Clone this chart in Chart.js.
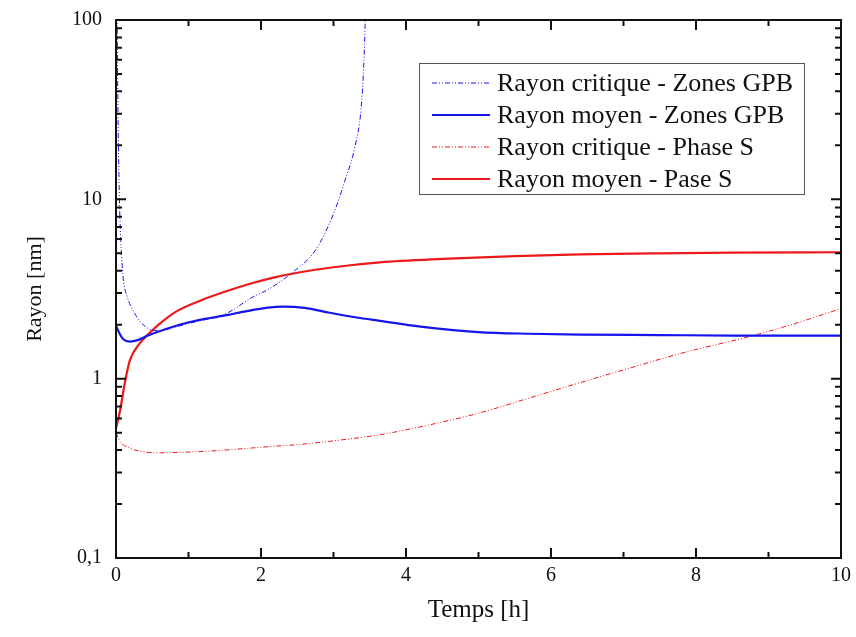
<!DOCTYPE html>
<html>
<head>
<meta charset="utf-8">
<title>Rayon</title>
<script src="https://cdn.jsdelivr.net/npm/chart.js@4.4.1/dist/chart.umd.min.js"></script>
<style>
  html, body { margin: 0; padding: 0; background: #fff; }
  canvas { display: block; }
</style>
</head>
<body>
<canvas id="rayonChart" width="856" height="637"></canvas>
<script>
// values (time in h, radius in nm)
const tCritGPB = [0, 0.015, 0.03, 0.05, 0.075, 0.1, 0.15, 0.26, 0.35, 0.47, 0.6, 0.8, 1.0, 1.2, 1.43, 1.6, 1.85, 2.12, 2.43, 2.75, 3.0, 3.16, 3.3, 3.38, 3.42, 3.45];
const rCritGPB = [400, 100, 25, 9, 5, 3.6, 2.9, 2.3, 2.05, 1.88, 1.85, 1.93, 2.03, 2.12, 2.23, 2.4, 2.8, 3.18, 3.9, 5.2, 8.3, 12.8, 20, 32, 60, 150];

const tMoyGPB = [0, 0.05, 0.1, 0.19, 0.3, 0.44, 0.7, 1.02, 1.3, 1.45, 1.55, 1.8, 2.1, 2.3, 2.6, 2.95, 3.3, 3.64, 4.2, 5.0, 5.7, 6.4, 7.5, 8.5, 10];
const rMoyGPB = [1.98, 1.78, 1.66, 1.61, 1.64, 1.74, 1.9, 2.07, 2.18, 2.23, 2.27, 2.38, 2.49, 2.52, 2.48, 2.33, 2.2, 2.1, 1.95, 1.82, 1.78, 1.76, 1.75, 1.74, 1.74];

const tCritS = [0, 0.05, 0.19, 0.4, 0.6, 1.3, 2.12, 2.54, 3.0, 3.64, 4.3, 5.02, 5.7, 6.4, 7.1, 7.78, 8.79, 9.4, 10];
const rCritS = [0.5, 0.45, 0.41, 0.39, 0.386, 0.395, 0.418, 0.43, 0.45, 0.487, 0.55, 0.645, 0.78, 0.95, 1.15, 1.38, 1.74, 2.05, 2.46];

const tMoyS = [0, 0.055, 0.12, 0.19, 0.33, 0.44, 0.6, 0.84, 1.16, 1.5, 1.85, 2.2, 2.54, 3.0, 3.64, 4.5, 5.5, 6.4, 7.5, 8.5, 10];
const rMoyS = [0.53, 0.66, 0.94, 1.26, 1.58, 1.76, 2.02, 2.38, 2.72, 3.05, 3.38, 3.68, 3.92, 4.18, 4.45, 4.65, 4.82, 4.93, 5.0, 5.04, 5.07];

const seriesNames = ["Rayon critique - Zones GPB", "Rayon moyen - Zones GPB", "Rayon critique - Phase S", "Rayon moyen - Pase S"];

const xTicks = [0, 2, 4, 6, 8, 10];
const yTicks = [0.1, 1, 10, 100];
const yTickLabels = ["0,1", "1", "10", "100"];

const BLUE = "rgb(20,20,235)";
const RED = "rgb(235,25,25)";
const DASH = [5, 2, 1, 2, 1, 2];
const SERIF = "'Liberation Serif', 'Times New Roman', serif";

function points(ts, rs) {
    return ts.map((t, i) => ({x: t, y: rs[i]}));
}

// inward ticks on the four sides + frame
const frameTicks = {
    id: "frameTicks",
    afterDraw(chart) {
        const {ctx, chartArea: a, scales: {x, y}} = chart;
        ctx.save();
        ctx.strokeStyle = "#111";
        ctx.lineWidth = 2;
        ctx.beginPath();
        for (let v = 0; v <= 10; v++) {
            const px = x.getPixelForValue(v);
            const len = xTicks.includes(v) ? 10 : 6;
            ctx.moveTo(px, a.bottom); ctx.lineTo(px, a.bottom - len);
            ctx.moveTo(px, a.top); ctx.lineTo(px, a.top + len);
        }
        for (let d = 0; d < yTicks.length; d++) {
            const base = yTicks[d];
            for (let m = 1; m <= 9; m++) {
                if (d === yTicks.length - 1 && m > 1) break;
                const py = y.getPixelForValue(base * m);
                const len = m === 1 ? 10 : 6;
                ctx.moveTo(a.left, py); ctx.lineTo(a.left + len, py);
                ctx.moveTo(a.right, py); ctx.lineTo(a.right - len, py);
            }
        }
        ctx.stroke();
        ctx.strokeRect(a.left, a.top, a.right - a.left, a.bottom - a.top);
        ctx.restore();
    }
};

// boxed legend inside the plot
const boxLegend = {
    id: "boxLegend",
    afterDraw(chart) {
        const {ctx, chartArea: a} = chart;
        const left = a.right - 422, top = a.top + 43, w = 385, h = 131;
        ctx.save();
        ctx.fillStyle = "#fff";
        ctx.fillRect(left, top, w, h);
        ctx.strokeStyle = "#555";
        ctx.lineWidth = 1;
        ctx.strokeRect(left + 0.5, top + 0.5, w, h);
        ctx.font = "26px " + SERIF;
        ctx.textBaseline = "middle";
        chart.data.datasets.forEach((ds, i) => {
            const cy = top + 20 + i * 32;
            ctx.strokeStyle = ds.borderColor;
            ctx.lineWidth = ds.borderWidth;
            ctx.setLineDash(ds.borderDash || []);
            ctx.beginPath();
            ctx.moveTo(left + 13, cy); ctx.lineTo(left + 71, cy);
            ctx.stroke();
            ctx.setLineDash([]);
            ctx.fillStyle = "#111";
            ctx.fillText(ds.label, left + 78, cy + 1);
        });
        ctx.restore();
    }
};

new Chart(document.getElementById("rayonChart"), {
    type: "line",
    data: {
        datasets: [
            {label: seriesNames[0], data: points(tCritGPB, rCritGPB), borderColor: BLUE, borderWidth: 1, borderDash: DASH},
            {label: seriesNames[1], data: points(tMoyGPB, rMoyGPB), borderColor: BLUE, borderWidth: 2.2},
            {label: seriesNames[2], data: points(tCritS, rCritS), borderColor: RED, borderWidth: 1, borderDash: DASH},
            {label: seriesNames[3], data: points(tMoyS, rMoyS), borderColor: RED, borderWidth: 2.2}
        ]
    },
    options: {
        responsive: false,
        animation: false,
        devicePixelRatio: 1,
        layout: {padding: {left: 0, right: 15, top: 20, bottom: 0}},
        elements: {
            point: {radius: 0},
            line: {cubicInterpolationMode: "monotone", fill: false}
        },
        plugins: {legend: {display: false}, tooltip: {enabled: false}},
        scales: {
            x: {
                type: "linear",
                min: 0,
                max: 10,
                grid: {display: false, drawTicks: false},
                border: {display: false},
                afterBuildTicks: s => { s.ticks = xTicks.map(v => ({value: v})); },
                afterFit: s => { s.height = 79; s.paddingLeft = 0; s.paddingRight = 0; },
                ticks: {
                    color: "#111",
                    padding: 6,
                    font: {family: SERIF, size: 20}
                },
                title: {
                    display: true,
                    text: "Temps [h]",
                    color: "#111",
                    padding: {bottom: 12},
                    font: {family: SERIF, size: 25}
                }
            },
            y: {
                type: "logarithmic",
                min: 0.1,
                max: 100,
                grid: {display: false, drawTicks: false},
                border: {display: false},
                afterBuildTicks: s => { s.ticks = yTicks.map(v => ({value: v})); },
                afterFit: s => { s.width = 116; s.paddingTop = 0; s.paddingBottom = 0; },
                ticks: {
                    color: "#111",
                    padding: 14,
                    font: {family: SERIF, size: 20},
                    callback: v => yTickLabels[yTicks.indexOf(v)] ?? ""
                },
                title: {
                    display: true,
                    text: "Rayon [nm]",
                    color: "#111",
                    padding: {top: 22},
                    font: {family: SERIF, size: 22}
                }
            }
        }
    },
    plugins: [frameTicks, boxLegend]
});
</script>
</body>
</html>
